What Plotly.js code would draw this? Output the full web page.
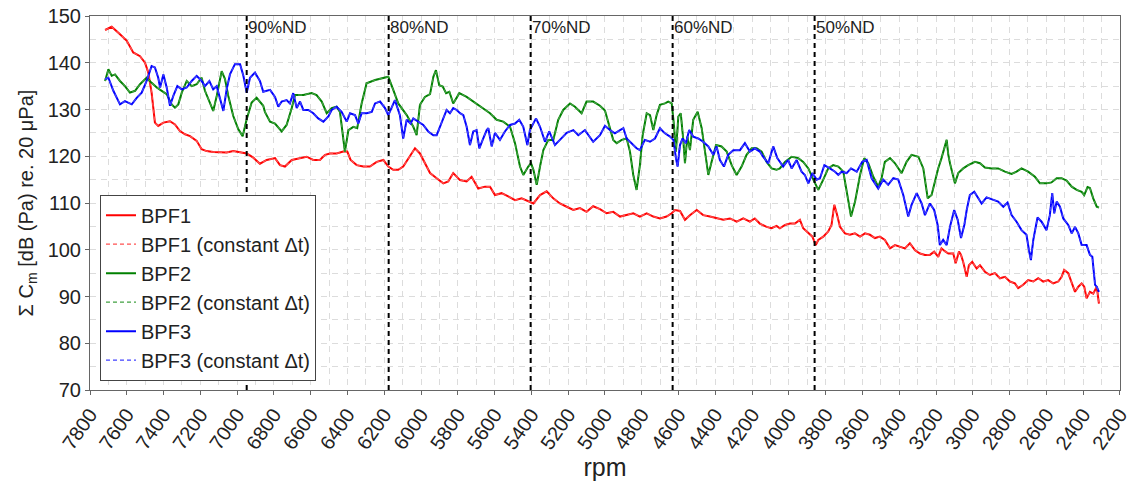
<!DOCTYPE html>
<html>
<head>
<meta charset="utf-8">
<script src="https://cdn.plot.ly/plotly-3.0.1.min.js"></script>
<style>html,body{margin:0;padding:0;background:#fff;}#chart{width:1130px;height:488px;}</style>
</head>
<body>
<div id="chart"></div>
<script>
// ---- data ----
const bpf1Rpm = [7718,7682,7637,7600,7565,7528,7501,7483,7465,7447,7429,7401,7365,7338,7311,7283,7256,7220,7193,7166,7130,7093,7057,7021,6984,6948,6912,6876,6839,6794,6767,6740,6703,6658,6622,6586,6550,6522,6495,6459,6423,6401,6383,6350,6314,6278,6241,6205,6178,6151,6124,6097,6060,6033,6006,5979,5951,5915,5879,5852,5825,5788,5752,5725,5689,5652,5625,5598,5562,5526,5489,5453,5417,5389,5353,5317,5281,5245,5208,5172,5136,5100,5064,5027,4991,4955,4918,4882,4846,4810,4773,4737,4701,4665,4637,4619,4592,4565,4538,4501,4466,4429,4393,4357,4320,4284,4248,4212,4185,4158,4121,4094,4067,4049,4021,3994,3967,3940,3922,3894,3872,3854,3840,3813,3786,3768,3753,3740,3722,3695,3668,3641,3613,3586,3559,3532,3505,3478,3450,3423,3396,3369,3342,3314,3287,3260,3233,3210,3188,3170,3152,3133,3106,3093,3075,3064,3052,3033,3021,3003,2979,2961,2934,2907,2880,2852,2825,2798,2771,2753,2726,2699,2671,2644,2617,2590,2563,2535,2517,2503,2481,2462,2444,2426,2408,2394,2381,2363,2345,2326,2314];
const bpf1dB = [147.0,147.7,146.1,144.7,142.2,141.4,140.0,137.9,133.6,127.2,126.5,127.2,127.5,126.8,125.4,124.7,124.3,123.3,121.5,121.1,120.9,120.9,120.8,121.1,120.8,120.6,119.7,118.4,119.2,119.6,118.1,117.8,119.2,119.6,119.9,119.2,119.2,120.3,120.6,120.6,121.0,121.0,119.2,118.1,117.8,117.8,118.8,119.2,117.8,117.1,117.1,117.8,119.9,121.7,120.6,118.5,116.4,115.3,114.2,114.6,116.4,114.9,114.6,115.6,113.1,113.5,113.5,111.7,112.1,111.4,110.6,111.0,110.3,109.9,111.7,112.5,111.0,109.9,109.2,108.5,108.9,108.1,109.3,108.7,107.8,108.1,107.1,107.4,107.8,107.1,107.8,107.1,106.7,107.1,107.8,108.5,108.3,106.4,107.4,108.5,107.4,107.1,106.7,106.4,106.7,106.0,106.7,106.0,106.7,105.6,104.9,104.6,105.1,104.6,105.3,105.6,105.6,106.4,104.6,103.5,102.8,101.0,102.1,102.8,103.9,105.3,109.6,107.8,104.9,103.5,103.2,103.5,102.8,103.5,103.2,102.5,102.8,102.1,100.3,101.0,100.7,100.3,101.4,99.9,99.2,98.9,98.9,99.6,98.5,100.3,99.7,99.2,99.2,97.1,99.6,98.9,97.4,94.2,96.7,97.4,96.0,96.7,95.3,94.6,95.0,93.9,94.2,93.2,92.8,91.8,92.5,93.5,93.2,93.9,93.2,93.5,92.8,93.2,94.2,95.7,95.0,92.8,91.0,92.1,92.8,92.1,89.6,91.0,90.6,92.1,88.5];

const bpf2Rpm = [7718,7700,7682,7664,7637,7610,7583,7555,7528,7492,7465,7437,7410,7383,7356,7338,7320,7301,7274,7247,7220,7193,7175,7157,7130,7111,7084,7066,7048,7021,6994,6970,6948,6921,6894,6858,6849,6821,6794,6758,6731,6703,6685,6640,6595,6568,6540,6513,6486,6459,6441,6414,6395,6368,6347,6323,6296,6250,6205,6178,6151,6124,6078,6042,6024,6006,5979,5951,5933,5919,5901,5882,5864,5846,5825,5792,5752,5716,5670,5625,5589,5553,5516,5489,5462,5444,5417,5402,5389,5371,5353,5335,5308,5281,5254,5227,5190,5163,5127,5100,5064,5027,5000,4982,4955,4936,4909,4882,4864,4846,4828,4810,4795,4773,4755,4737,4719,4701,4674,4656,4637,4625,4614,4601,4588,4574,4565,4552,4538,4520,4496,4474,4456,4438,4420,4396,4366,4338,4311,4284,4257,4230,4202,4175,4148,4121,4094,4067,4049,4021,3985,3949,3922,3894,3867,3840,3813,3786,3759,3731,3704,3686,3662,3640,3613,3590,3568,3541,3514,3496,3478,3450,3423,3387,3360,3333,3296,3269,3245,3224,3206,3188,3170,3152,3142,3133,3124,3097,3079,3052,3025,2988,2961,2934,2897,2862,2825,2789,2762,2735,2699,2662,2635,2599,2572,2544,2517,2490,2462,2435,2408,2394,2376,2363,2345,2326,2314];
const bpf2dB = [136.1,138.6,137.2,137.5,136.1,135.0,133.6,134.0,135.4,136.8,135.7,134.7,134.0,133.3,131.1,130.4,131.1,133.6,136.1,135.0,135.4,136.8,134.0,132.2,129.7,132.9,138.2,136.5,132.9,128.6,125.8,124.3,127.9,131.5,132.5,130.8,129.5,127.4,127.0,125.3,126.7,130.3,133.1,133.1,133.5,133.1,131.7,129.2,130.3,130.6,129.5,121.0,125.6,126.3,126.0,131.3,135.6,136.3,136.7,137.0,134.2,131.3,128.8,126.3,124.5,131.0,132.7,133.3,137.0,138.4,135.2,134.9,133.5,133.8,131.3,133.5,132.7,131.7,130.6,129.2,127.8,127.4,126.3,122.8,117.8,116.0,117.8,118.5,117.1,113.9,117.8,121.3,123.5,123.5,127.8,129.9,131.3,130.6,129.2,131.7,131.7,130.8,129.8,127.4,123.5,122.8,123.5,123.8,121.0,116.0,112.8,118.1,124.5,129.2,128.8,125.6,128.8,131.0,131.3,131.7,131.3,126.7,121.0,128.5,129.2,123.5,118.5,124.2,121.3,127.8,129.5,126.0,120.6,116.0,118.8,122.4,122.1,121.0,118.1,116.0,117.8,120.3,121.7,121.7,121.0,118.8,117.4,117.1,117.4,118.8,119.9,119.6,118.8,117.4,115.0,112.8,115.0,117.4,118.1,117.8,116.7,112.4,107.1,110.3,116.0,119.6,118.5,115.6,113.5,115.3,118.8,119.6,118.5,116.4,118.8,120.3,119.9,117.4,111.0,111.7,114.6,117.4,119.6,122.4,123.5,120.3,118.5,114.2,116.4,117.4,118.1,118.8,118.5,117.6,117.4,117.4,116.7,116.2,116.7,117.4,116.7,115.6,114.2,114.2,114.4,115.3,115.3,114.8,113.5,112.8,112.4,111.7,113.4,113.2,111.0,109.2,109.0];

const bpf3Rpm = [7718,7700,7673,7637,7610,7573,7546,7519,7492,7465,7447,7429,7419,7401,7383,7365,7347,7325,7301,7274,7247,7220,7193,7175,7151,7130,7111,7093,7075,7057,7039,7012,6984,6966,6948,6930,6903,6876,6858,6821,6794,6776,6758,6731,6713,6695,6676,6658,6640,6613,6586,6559,6531,6504,6486,6459,6432,6404,6386,6359,6341,6323,6296,6268,6250,6223,6196,6178,6160,6142,6115,6097,6078,6057,6042,6015,5988,5961,5933,5915,5888,5861,5843,5825,5806,5788,5770,5752,5734,5716,5698,5683,5665,5643,5634,5616,5598,5571,5544,5516,5489,5466,5444,5422,5408,5393,5375,5353,5326,5303,5272,5245,5208,5172,5145,5109,5064,5027,5000,4973,4946,4918,4900,4882,4855,4828,4810,4783,4755,4728,4701,4674,4646,4628,4614,4605,4592,4578,4560,4542,4520,4493,4466,4438,4411,4393,4375,4353,4330,4302,4266,4239,4212,4185,4158,4140,4112,4085,4063,4049,4031,4004,3985,3958,3931,3913,3894,3872,3849,3831,3807,3777,3749,3731,3713,3686,3662,3631,3601,3577,3550,3514,3487,3460,3432,3405,3378,3351,3333,3305,3278,3260,3233,3210,3191,3179,3161,3142,3124,3101,3082,3064,3046,3033,3016,2992,2970,2952,2925,2897,2862,2834,2811,2789,2762,2735,2708,2695,2684,2671,2648,2626,2599,2581,2568,2557,2544,2526,2508,2481,2462,2444,2426,2408,2381,2363,2350,2335,2326,2314];
const bpf3dB = [136.5,136.8,134.0,131.1,131.8,131.1,132.5,133.6,136.1,139.3,139.0,136.8,134.7,137.5,134.7,130.8,132.9,135.0,134.3,134.7,136.1,137.2,136.1,135.0,136.1,134.3,135.0,132.2,129.7,134.3,137.5,139.7,139.7,137.2,133.6,136.8,137.9,136.1,133.8,134.2,132.7,130.6,131.7,132.0,131.3,133.5,130.3,131.7,129.9,129.9,129.2,128.1,127.4,128.5,129.9,130.6,129.5,127.4,129.2,128.8,127.0,129.2,129.2,129.5,131.3,131.7,130.3,128.8,130.6,132.0,128.8,123.8,127.8,127.0,128.1,127.4,126.7,125.3,124.5,124.5,127.4,129.9,129.2,130.3,129.9,129.2,128.8,126.3,122.4,125.3,125.6,121.7,123.5,125.6,126.0,122.1,125.0,123.5,125.3,126.7,127.0,127.8,126.3,122.4,125.6,126.7,128.1,126.3,123.1,125.3,122.4,123.5,125.0,125.6,124.5,125.6,123.1,124.5,126.5,125.6,124.9,125.6,126.0,123.8,122.8,121.7,121.3,123.5,123.1,123.8,126.0,124.9,124.2,123.5,119.6,117.8,122.4,123.8,122.8,125.6,124.2,123.8,123.1,122.1,120.3,122.1,119.2,117.8,120.3,121.3,121.3,122.8,121.0,121.7,121.0,119.9,118.5,122.1,119.6,118.8,117.8,119.2,117.4,119.2,116.7,116.0,114.2,116.4,115.0,115.3,118.1,117.4,116.7,116.0,116.7,116.4,117.4,116.7,118.8,119.2,115.3,113.1,115.0,113.9,115.3,115.0,111.7,107.1,109.6,112.1,109.9,107.4,109.9,108.5,105.3,101.0,102.1,101.0,104.9,108.5,106.4,102.5,105.3,108.5,111.7,112.4,111.0,109.9,111.2,110.8,110.3,109.2,110.1,107.4,106.0,104.2,103.2,100.0,97.8,102.1,106.9,106.0,104.2,107.4,112.1,107.8,110.3,109.2,106.7,105.3,103.5,104.9,103.5,101.0,101.0,98.9,98.5,92.5,92.1,91.0];

const ndRpm = [6948, 6176, 5404, 4632, 3860];
const ndLabels = ['90%ND', '80%ND', '70%ND', '60%ND', '50%ND'];
const seriesNames = ['BPF1', 'BPF1 (constant Δt)', 'BPF2', 'BPF2 (constant Δt)', 'BPF3', 'BPF3 (constant Δt)'];
const seriesColors = ['#ff0000', '#008000', '#0000ff'];
const dashColors = ['#ff5050', '#40a040', '#4040ff'];
const xTickVals = [7800,7600,7400,7200,7000,6800,6600,6400,6200,6000,5800,5600,5400,5200,5000,4800,4600,4400,4200,4000,3800,3600,3400,3200,3000,2800,2600,2400,2200];
const yTickVals = [70,80,90,100,110,120,130,140,150];

// ---- build traces ----
const rpmSets = [bpf1Rpm, bpf2Rpm, bpf3Rpm];
const dbSets = [bpf1dB, bpf2dB, bpf3dB];
const traces = [];
for (let i = 0; i < 3; i++) {
  traces.push({x: rpmSets[i], y: dbSets[i], type: 'scatter', mode: 'lines', name: seriesNames[2*i],
    line: {color: seriesColors[i], width: 2}});
  traces.push({x: rpmSets[i], y: dbSets[i], type: 'scatter', mode: 'lines', name: seriesNames[2*i+1],
    line: {color: dashColors[i], width: 1.3, dash: '4px,3px'}});
}

const FONT = '"Liberation Sans", Arial, sans-serif';
const shapes = ndRpm.map(v => ({type: 'line', xref: 'x', yref: 'paper', x0: v, x1: v, y0: 0, y1: 1,
  line: {color: '#000', width: 2, dash: '5px,4px'}, layer: 'above'}));
const annotations = ndRpm.map((v, i) => ({x: v, y: 0.968, xref: 'x', yref: 'paper', text: ndLabels[i],
  showarrow: false, xanchor: 'left', yanchor: 'middle', xshift: -1, font: {size: 17, color: '#222', family: FONT}}));

const gridCol = '#dcdcdc';
const layout = {
  width: 1130, height: 488,
  margin: {l: 90, r: 10, t: 16, b: 98},
  paper_bgcolor: '#fff', plot_bgcolor: '#fff',
  font: {family: FONT, color: '#222'},
  showlegend: true,
  legend: {x: 0.0097, y: 0.025, xanchor: 'left', yanchor: 'bottom', bgcolor: '#fff',
    bordercolor: '#444', borderwidth: 1, font: {size: 20, family: FONT, color: '#222'},
    tracegroupgap: 0, itemwidth: 30},
  xaxis: {
    range: [7800, 2199.5], tickvals: xTickVals, tickangle: -55,
    tickfont: {size: 20, family: FONT, color: '#222'}, ticklabeloverflow: 'allow',
    title: {text: 'rpm', font: {size: 25, family: FONT, color: '#222'}, standoff: 4},
    showline: true, linecolor: '#666', linewidth: 1, mirror: true,
    ticks: 'outside', ticklen: 4, tickcolor: '#666',
    showgrid: true, gridcolor: gridCol, griddash: '6px,5px', gridwidth: 1,
    minor: {dtick: 100, showgrid: true, gridcolor: gridCol, griddash: '6px,5px', gridwidth: 1},
    zeroline: false, automargin: false
  },
  yaxis: {
    range: [70, 150], tickvals: yTickVals,
    tickfont: {size: 20, family: FONT, color: '#222'},
    title: {text: 'Σ C<sub>m</sub> [dB (Pa) re. 20 μPa]', font: {size: 20, family: FONT, color: '#222'}, standoff: 8},
    showline: true, linecolor: '#666', linewidth: 1, mirror: true,
    ticks: 'outside', ticklen: 4, tickcolor: '#666',
    showgrid: true, gridcolor: gridCol, griddash: '6px,5px', gridwidth: 1,
    minor: {dtick: 5, showgrid: true, gridcolor: gridCol, griddash: '6px,5px', gridwidth: 1},
    zeroline: false, automargin: false
  },
  shapes: shapes,
  annotations: annotations
};

Plotly.newPlot('chart', traces, layout, {displayModeBar: false, staticPlot: true});
</script>
</body>
</html>
